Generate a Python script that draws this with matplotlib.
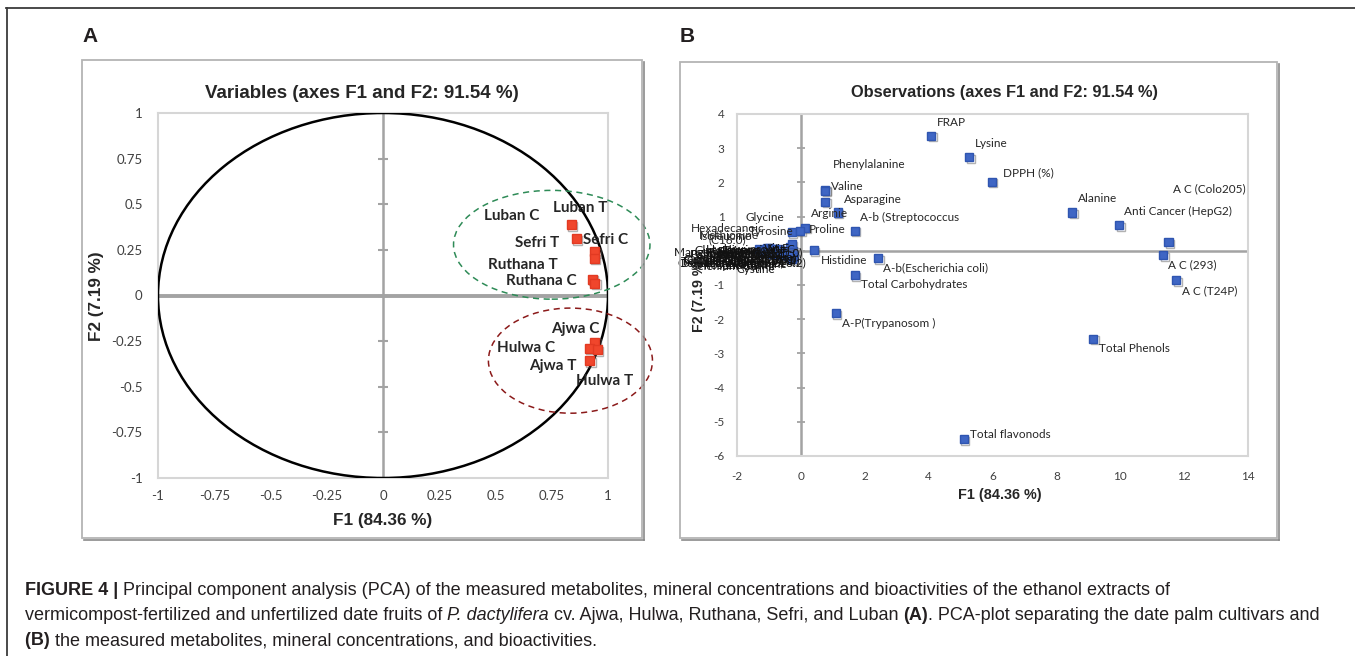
import numpy as np
import matplotlib
matplotlib.use("Agg")
import matplotlib.pyplot as plt
from matplotlib.patches import Circle, Ellipse, Rectangle
from matplotlib.lines import Line2D
import matplotlib.patheffects as pe

W, H = 1355, 656

# ---------------- Panel A data (variables / correlation circle) ----------------
cult_names = ["Luban T", "Luban C", "Sefri T", "Sefri C", "Ruthana T", "Ruthana C",
              "Ajwa C", "Hulwa C", "Hulwa T", "Ajwa T"]
cult_f1 = [0.836, 0.940, 0.859, 0.938, 0.930, 0.940, 0.940, 0.917, 0.952, 0.917]
cult_f2 = [0.389, 0.240, 0.311, 0.205, 0.090, 0.068, -0.256, -0.289, -0.298, -0.358]
a_ticks = [-1, -0.75, -0.5, -0.25, 0, 0.25, 0.5, 0.75, 1]
a_ticklabels = ["-1", "-0.75", "-0.5", "-0.25", "0", "0.25", "0.5", "0.75", "1"]

# ---------------- Panel B data (observations) ----------------
obs_names = ["FRAP", "Lysine", "DPPH (%)", "Phenylalanine", "Valine", "Asparagine",
             "Arginie", "A-b (Streptococcus", "Proline", "Glycine", "Tyrosine",
             "Histidine", "A-b(Escherichia coli)", "Total Carbohydrates",
             "A-P(Trypanosom )", "Total flavonods", "Total Phenols", "Alanine",
             "Anti Cancer (HepG2)", "A C (Colo205)", "A C (293)", "A C (T24P)",
             "Hexadecanoic\n(C16:0)", "Methionine", "Isoleucine"]
obs_f1 = [4.08, 5.26, 5.97, 0.75, 0.76, 0.76, 1.15, 1.68, 0.13, -0.29, -0.02,
          0.40, 2.41, 1.68, 1.09, 5.10, 9.15, 8.49, 9.96, 11.51, 11.34, 11.75,
          -0.29, -1.00, -0.95]
obs_f2 = [3.37, 2.73, 2.02, 1.79, 1.76, 1.44, 1.12, 0.59, 0.68, 0.54, 0.59,
          0.02, -0.21, -0.71, -1.82, -5.51, -2.57, 1.12, 0.75, 0.26, -0.12, -0.86,
          0.20, 0.08, 0.05]

# crowded group of variables near the origin (labels overlap into a dark block)
crowd_names = ["Leucine", "Threonine", "Serine", "Glutamic acid", "Aspartic acid",
               "Cystine", "Tryptophan", "Vit C", "Vit E", "Octadecanoic (C18:0)",
               "Octadecenoic (C18:1)", "Octadecadienoic (C18:2)",
               "Tetradecanoic (C14:0)", "Potassium (K)", "Calcium (Ca)",
               "Magnesium (Mg)", "Sodium (Na)", "Iron (Fe)", "Zinc (Zn)",
               "Phosphorus (P)", "Manganese (Mn)", "Copper (Cu)", "Vit A",
               "Glutamine", "Ornithine", "Hydroxyproline", "Dodecanoic (C12:0)",
               "Eicosanoic (C20:0)", "Palmitoleic (C16:1)", "Selenium (Se)"]
crowd_f1 = [-1.30, -1.15, -1.05, -1.00, -0.95, -0.85, -0.75, -0.70, -0.60, -0.50,
            -0.45, -0.40, -0.32, -0.30, -0.25, -0.22, -1.20, -0.90, -0.65, -0.35,
            -1.10, -0.80, -0.55, -1.25, -0.28, -0.95, -0.70, -0.48, -1.02, -0.38]
crowd_f2 = [0.05, 0.02, 0.08, 0.00, -0.05, -0.10, -0.03, -0.05, -0.12, 0.00,
            -0.08, -0.15, -0.10, -0.20, 0.00, -0.18, -0.05, -0.08, -0.02, 0.12,
            -0.02, 0.04, -0.06, -0.01, -0.25, 0.03, 0.06, -0.12, -0.04, -0.02]

b_xticks = [-2, 0, 2, 4, 6, 8, 10, 12, 14]
b_yticks = [-6, -5, -4, -3, -2, -1, 0, 1, 2, 3, 4]

# ---------------- label placement (layout only) ----------------
lab_a = {"Luban T": (0.875, 0.48), "Luban C": (0.57, 0.433), "Sefri T": (0.686, 0.287),
         "Sefri C": (0.99, 0.305), "Ruthana T": (0.622, 0.165), "Ruthana C": (0.705, 0.082),
         "Ajwa C": (0.855, -0.185), "Hulwa C": (0.638, -0.289), "Ajwa T": (0.753, -0.389),
         "Hulwa T": (0.985, -0.466)}
lab_b = {"FRAP": (4.71, 3.76), "Lysine": (5.97, 3.14), "DPPH (%)": (7.13, 2.29),
         "Phenylalanine": (2.13, 2.51), "Valine": (1.44, 1.87), "Asparagine": (2.25, 1.51),
         "Arginie": (0.90, 1.09), "A-b (Streptococcus": (3.39, 0.96), "Proline": (0.82, 0.63),
         "Glycine": (-1.14, 0.96), "Tyrosine": (-0.92, 0.55), "Histidine": (1.36, -0.29),
         "A-b(Escherichia coli)": (4.23, -0.51), "Total Carbohydrates": (3.55, -1.00),
         "A-P(Trypanosom )": (2.76, -2.12), "Total flavonods": (6.57, -5.38),
         "Total Phenols": (10.44, -2.85), "Alanine": (9.29, 1.53),
         "Anti Cancer (HepG2)": (11.81, 1.16), "A C (Colo205)": (12.80, 1.80),
         "A C (293)": (12.26, -0.42), "A C (T24P)": (12.80, -1.17),
         "Hexadecanoic\n(C16:0)": (-2.30, 0.48), "Methionine": (-2.25, 0.44),
         "Isoleucine": (-2.35, 0.43)}
crowd_lab = [(-1.85, 0.02), (-1.60, 0.00), (-2.10, -0.02), (-1.75, -0.10), (-1.55, -0.12),
             (-1.40, -0.56), (-2.00, -0.14), (-0.60, 0.05), (-0.75, 0.07), (-1.90, -0.22),
             (-1.80, -0.26), (-1.85, -0.34), (-1.95, -0.30), (-2.20, -0.20), (-2.30, -0.10),
             (-1.50, -0.24), (-2.40, -0.35), (-1.30, -0.30), (-1.65, -0.40), (-2.05, -0.42),
             (-2.60, -0.05), (-2.70, -0.28), (-1.10, -0.18), (-2.50, 0.02), (-1.20, -0.40),
             (-1.70, 0.04), (-2.15, -0.36), (-1.45, -0.06), (-1.95, -0.08), (-2.35, -0.44)]

def fx(x):
    return x / W

def fy(y):
    return 1 - y / H

fig = plt.figure(figsize=(W / 100, H / 100), dpi=100)
fig.patch.set_facecolor("white")

# outer frame lines
fig.add_artist(Line2D([fx(6), fx(1355)], [fy(8), fy(8)], color="#3c3c3c", lw=1.3))
fig.add_artist(Line2D([fx(7), fx(7)], [fy(8), fy(656)], color="#3c3c3c", lw=1.3))

# chart boxes
for (x0, y0, x1, y1) in [(82, 60, 642, 538), (680, 62, 1277, 538)]:
    fig.add_artist(Line2D([fx(x1 + 1.5), fx(x1 + 1.5)], [fy(y0 + 2), fy(y1 + 1.5)],
                          color="#8a8a8a", lw=1.2))
    fig.add_artist(Line2D([fx(x0 + 2), fx(x1 + 1.5)], [fy(y1 + 1.5), fy(y1 + 1.5)],
                          color="#8a8a8a", lw=1.2))
    fig.add_artist(Rectangle((fx(x0), fy(y1)), fx(x1 - x0), (y1 - y0) / H,
                             transform=fig.transFigure, fill=False,
                             ec="#b4b4b4", lw=1.3))

fig.text(fx(82), fy(37), "A", fontsize=15, fontweight="bold",
         family="Liberation Sans", ha="left", va="center", color="#231f20")
fig.text(fx(680), fy(37), "B", fontsize=15, fontweight="bold",
         family="Liberation Sans", ha="left", va="center", color="#231f20")

shadow = [pe.SimpleLineShadow(offset=(1.2, -1.2), shadow_color="#555555", alpha=0.45),
          pe.Normal()]

# ================= Panel A =================
axA = fig.add_axes([fx(158), fy(478), 450 / W, 365 / H])
axA.set_xlim(-1, 1)
axA.set_ylim(-1, 1)
for s in axA.spines.values():
    s.set_color("#d6d6d6")
    s.set_linewidth(1.5)
axA.axhline(0, color="#a3a3a3", lw=2.8, zorder=1)
axA.axvline(0, color="#a3a3a3", lw=1.8, zorder=1)
axA.plot([0] * len(a_ticks), a_ticks, ls="none", marker="_", ms=7, mew=1.5,
         color="#a3a3a3", zorder=1)
axA.add_patch(Circle((0, 0), 1, fill=False, ec="black", lw=1.8, zorder=3))
axA.add_patch(Ellipse((0.75, 0.278), 0.873, 0.596, fill=False, ec="#2e8b57",
                      ls=(0, (4, 3)), lw=1.1, clip_on=False, zorder=4))
axA.add_patch(Ellipse((0.833, -0.357), 0.729, 0.576, fill=False, ec="#8b1a1a",
                      ls=(0, (4, 3)), lw=1.1, clip_on=False, zorder=4))
axA.plot(cult_f1, cult_f2, ls="none", marker="s", ms=6.5, color="#f0462c",
         mec="#e23a22", zorder=5, path_effects=shadow)
for n in cult_names:
    x, y = lab_a[n]
    axA.text(x, y, n, ha="center", va="center", fontsize=11, fontweight="bold",
             family="Lato", color="#262626", zorder=6, clip_on=False)
axA.set_xticks(a_ticks)
axA.set_xticklabels(a_ticklabels)
axA.set_yticks(a_ticks)
axA.set_yticklabels(a_ticklabels)
axA.tick_params(length=0, labelsize=9.5, labelcolor="#404040")
axA.tick_params(axis="x", pad=9)
axA.tick_params(axis="y", pad=11)
for lab in axA.get_xticklabels() + axA.get_yticklabels():
    lab.set_family("Lato")

fig.text(fx(362), fy(94), "Variables (axes F1 and F2: 91.54 %)", ha="center",
         va="center", fontsize=13.5, fontweight="bold", family="Liberation Sans",
         color="#262626")
fig.text(fx(383), fy(521), "F1 (84.36 %)", ha="center", va="center", fontsize=12.3,
         fontweight="bold", family="Liberation Sans", color="#262626")
fig.text(fx(97), fy(296), "F2 (7.19 %)", ha="center", va="center", fontsize=12.3,
         fontweight="bold", family="Liberation Sans", color="#262626", rotation=90)

# ================= Panel B =================
axB = fig.add_axes([fx(737), fy(456), 511 / W, 342 / H])
axB.set_xlim(-2, 14)
axB.set_ylim(-6, 4)
for s in axB.spines.values():
    s.set_color("#d6d6d6")
    s.set_linewidth(1.5)
axB.axhline(0, color="#a3a3a3", lw=1.8, zorder=1)
axB.axvline(0, color="#a3a3a3", lw=1.8, zorder=1)
axB.plot([0] * len(b_yticks), b_yticks, ls="none", marker="_", ms=6, mew=1.3,
         color="#a3a3a3", zorder=1)
axB.set_xticks(b_xticks)
axB.set_xticklabels([str(v) for v in b_xticks])
axB.set_yticks(b_yticks)
axB.set_yticklabels([str(v) for v in b_yticks])
axB.tick_params(length=0, labelsize=8.5, labelcolor="#404040")
axB.tick_params(axis="x", pad=11)
axB.tick_params(axis="y", pad=9)
for lab in axB.get_xticklabels() + axB.get_yticklabels():
    lab.set_family("Lato")

fig.text(fx(699), fy(295), "F2 (7.19 %)", ha="center", va="center", fontsize=10.2,
         fontweight="bold", family="Liberation Sans", color="#262626", rotation=90,
         zorder=1)
fig.text(fx(1000), fy(495), "F1 (84.36 %)", ha="center", va="center", fontsize=10.4,
         fontweight="bold", family="Liberation Sans", color="#262626")
fig.text(fx(1005), fy(92), "Observations (axes F1 and F2: 91.54 %)", ha="center",
         va="center", fontsize=11.8, fontweight="bold", family="Liberation Sans",
         color="#262626")

axB.plot(crowd_f1, crowd_f2, ls="none", marker="s", ms=5.8, color="#3f66c4",
         mec="#2f55b0", zorder=5, path_effects=shadow)
axB.plot(obs_f1, obs_f2, ls="none", marker="s", ms=5.8, color="#3f66c4",
         mec="#2f55b0", zorder=5, path_effects=shadow)
for n in obs_names:
    x, y = lab_b[n]
    axB.text(x, y, n, ha="center", va="center", fontsize=8.5, family="Lato",
             color="#262626", zorder=6, clip_on=False, linespacing=1.0)
for n, (x, y) in zip(crowd_names, crowd_lab):
    axB.text(x, y, n, ha="center", va="center", fontsize=8.5, family="Lato",
             color="#111111", zorder=6, clip_on=False)

# ================= Caption =================
renderer = fig.canvas.get_renderer()
CAP = dict(fontsize=13, family="Liberation Sans", color="#231f20")

def width_of(s, **kw):
    t = fig.text(0, 0, s + "|", **CAP, **kw)
    w1 = t.get_window_extent(renderer).width
    t.set_text("|")
    w2 = t.get_window_extent(renderer).width
    t.remove()
    return w1 - w2

def draw_line(runs, x0, ybase):
    x = x0
    for s, kw in runs:
        fig.text(fx(x), fy(ybase), s, ha="left", va="baseline", **CAP, **kw)
        x += width_of(s, **kw)

B = dict(fontweight="bold")
N = dict()
I = dict(fontstyle="italic")
draw_line([("FIGURE 4 | ", B),
           ("Principal component analysis (PCA) of the measured metabolites, mineral "
            "concentrations and bioactivities of the ethanol extracts of", N)], 25, 595)
draw_line([("vermicompost-fertilized and unfertilized date fruits of ", N),
           ("P. dactylifera", I),
           (" cv. Ajwa, Hulwa, Ruthana, Sefri, and Luban ", N),
           ("(A)", B),
           (". PCA-plot separating the date palm cultivars and", N)], 25, 620)
draw_line([("(B) ", B),
           ("the measured metabolites, mineral concentrations, and bioactivities.", N)],
          25, 645)

fig.savefig("out.png", dpi=100, facecolor="white")
